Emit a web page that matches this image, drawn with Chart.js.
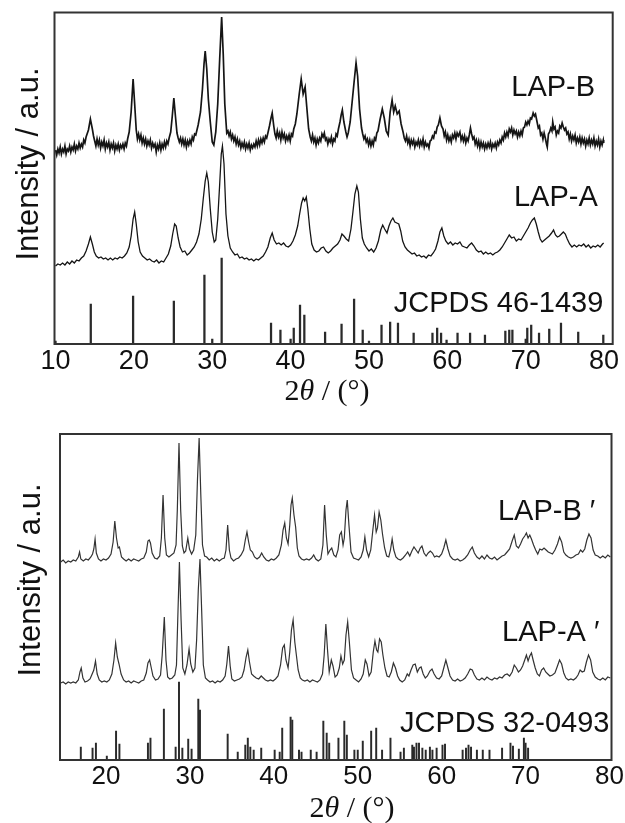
<!DOCTYPE html>
<html>
<head>
<meta charset="utf-8">
<script src="https://cdn.jsdelivr.net/npm/chart.js@4.4.1/dist/chart.umd.min.js"></script>
<style>
  body { margin: 0; background: #fff; }
  canvas { display: block; }
</style>
</head>
<body>
<canvas id="topChart" width="625" height="410"></canvas>
<canvas id="bottomChart" width="625" height="413"></canvas>
<script>
// 2theta tick labels for each panel
var topTicks = [10, 20, 30, 40, 50, 60, 70, 80];
var bottomTicks = [20, 30, 40, 50, 60, 70, 80];

// top panel, [2theta, intensity a.u.]
var lapB = [[10.0,194],[10.15,189],[10.3,195],[10.45,191],[10.6,197],[10.75,190],[10.9,195],[11.05,192],[11.2,198],[11.35,190],[11.5,195],[11.65,193],[11.8,198],[11.95,192],[12.1,197],[12.25,194],[12.4,200],[12.55,193],[12.7,198],[12.85,195],[13.0,201],[13.15,196],[13.3,200],[13.45,197],[13.6,204],[13.75,201],[13.9,207],[14.2,214],[14.45,225],[14.7,215],[14.85,208],[15.0,203],[15.15,198],[15.3,205],[15.45,199],[15.6,204],[15.75,196],[15.9,202],[16.05,198],[16.2,204],[16.35,195],[16.5,201],[16.65,197],[16.8,202],[16.95,194],[17.1,200],[17.25,196],[17.4,201],[17.55,193],[17.7,199],[17.85,195],[18.0,200],[18.15,194],[18.3,199],[18.45,196],[18.6,200],[18.75,195],[18.9,201],[19.05,198],[19.2,205],[19.4,212],[19.65,232],[19.9,265],[20.1,240],[20.3,214],[20.45,205],[20.6,210],[20.75,204],[20.9,209],[21.05,201],[21.2,206],[21.35,200],[21.5,205],[21.65,198],[21.8,203],[21.95,199],[22.1,204],[22.25,196],[22.4,201],[22.55,197],[22.7,200],[22.85,192],[23.0,199],[23.15,195],[23.3,201],[23.45,194],[23.6,200],[23.75,196],[23.9,202],[24.05,197],[24.2,203],[24.35,200],[24.5,206],[24.7,212],[24.9,228],[25.1,246],[25.3,228],[25.5,211],[25.65,206],[25.8,202],[25.95,206],[26.1,200],[26.25,205],[26.4,199],[26.55,204],[26.7,197],[26.85,203],[27.0,199],[27.15,204],[27.3,200],[27.45,207],[27.6,204],[27.75,210],[27.9,209],[28.2,219],[28.5,232],[28.75,255],[28.95,280],[29.1,293],[29.3,275],[29.5,245],[29.75,222],[30.0,202],[30.2,199],[30.45,212],[30.7,240],[30.95,285],[31.2,327],[31.4,290],[31.6,240],[31.85,211],[32.0,213],[32.15,208],[32.3,212],[32.45,205],[32.6,209],[32.75,203],[32.9,207],[33.05,200],[33.2,205],[33.35,199],[33.5,203],[33.65,196],[33.8,201],[33.95,197],[34.1,202],[34.25,195],[34.4,200],[34.55,196],[34.7,201],[34.85,194],[35.0,199],[35.15,196],[35.3,200],[35.45,197],[35.6,203],[35.75,198],[35.9,204],[36.05,199],[36.2,205],[36.35,201],[36.5,206],[36.65,202],[36.8,208],[36.95,206],[37.1,211],[37.3,218],[37.5,226],[37.65,231],[37.85,218],[38.0,210],[38.15,206],[38.3,213],[38.45,207],[38.6,211],[38.75,204],[38.9,212],[39.05,206],[39.2,210],[39.35,203],[39.5,208],[39.65,204],[39.8,209],[39.95,203],[40.1,210],[40.25,208],[40.4,215],[40.6,220],[40.8,230],[41.1,250],[41.35,265],[41.6,250],[41.85,257],[42.05,238],[42.3,215],[42.5,207],[42.65,203],[42.8,209],[42.95,202],[43.1,206],[43.25,199],[43.4,205],[43.55,201],[43.7,206],[43.85,203],[44.0,210],[44.15,207],[44.3,211],[44.45,204],[44.6,206],[44.75,200],[44.9,205],[45.05,202],[45.2,207],[45.35,200],[45.5,205],[45.65,203],[45.8,210],[45.95,208],[46.1,215],[46.3,222],[46.45,229],[46.6,234],[46.8,222],[47.05,212],[47.2,207],[47.35,211],[47.6,222],[47.85,242],[48.1,262],[48.35,281],[48.55,268],[48.8,235],[49.05,216],[49.2,210],[49.35,205],[49.5,208],[49.65,202],[49.8,205],[49.95,199],[50.1,204],[50.25,198],[50.4,203],[50.55,199],[50.7,206],[50.85,204],[51.0,211],[51.15,213],[51.4,224],[51.7,235],[51.95,226],[52.2,213],[52.45,209],[52.7,232],[52.95,244],[53.15,232],[53.35,238],[53.6,230],[53.85,233],[54.1,220],[54.35,212],[54.5,206],[54.65,203],[54.8,208],[54.95,201],[55.1,205],[55.25,198],[55.4,204],[55.55,200],[55.7,204],[55.85,197],[56.0,202],[56.15,199],[56.3,204],[56.45,198],[56.6,203],[56.75,199],[56.9,205],[57.05,197],[57.2,202],[57.35,198],[57.5,200],[57.65,196],[57.8,203],[57.95,204],[58.1,208],[58.25,206],[58.4,212],[58.55,211],[58.7,217],[58.85,219],[59.05,226],[59.25,218],[59.45,215],[59.6,208],[59.75,212],[59.9,204],[60.05,209],[60.2,203],[60.35,207],[60.5,202],[60.65,209],[60.8,206],[60.95,211],[61.1,205],[61.25,211],[61.4,208],[61.6,212],[61.75,204],[61.9,208],[62.05,203],[62.2,208],[62.35,201],[62.5,206],[62.65,203],[62.8,209],[62.95,216],[63.1,210],[63.25,205],[63.4,207],[63.55,200],[63.7,204],[63.85,198],[64.0,203],[64.15,196],[64.3,202],[64.45,197],[64.6,201],[64.75,195],[64.9,200],[65.05,196],[65.2,201],[65.35,197],[65.5,202],[65.65,195],[65.8,200],[65.95,197],[66.1,201],[66.25,196],[66.4,202],[66.55,199],[66.7,204],[66.85,201],[67.0,207],[67.15,204],[67.3,211],[67.45,207],[67.6,212],[67.75,208],[67.9,215],[68.05,212],[68.2,216],[68.35,209],[68.5,214],[68.65,210],[68.8,213],[68.95,207],[69.1,212],[69.25,208],[69.4,213],[69.55,209],[69.7,216],[69.85,217],[70.0,222],[70.15,219],[70.3,223],[70.45,220],[70.6,226],[70.75,225],[70.95,231],[71.1,228],[71.25,230],[71.45,222],[71.6,216],[71.75,218],[71.9,209],[72.05,211],[72.2,205],[72.35,211],[72.5,206],[72.65,200],[72.75,197],[72.9,210],[73.05,212],[73.2,216],[73.35,213],[73.45,222],[73.6,215],[73.75,217],[73.9,209],[74.05,213],[74.2,211],[74.35,218],[74.5,216],[74.65,221],[74.8,217],[74.95,214],[75.1,216],[75.25,210],[75.4,212],[75.55,205],[75.7,210],[75.85,203],[76.0,208],[76.15,204],[76.3,209],[76.45,201],[76.6,206],[76.75,202],[76.9,207],[77.05,200],[77.2,206],[77.35,201],[77.5,205],[77.65,198],[77.8,204],[77.95,200],[78.1,206],[78.25,199],[78.4,204],[78.55,200],[78.7,206],[78.85,198],[79.0,203],[79.15,199],[79.3,205],[79.45,197],[79.6,203],[79.75,199],[79.9,204],[79.95,201]];

var lapA = [[10.0,78],[10.3,80],[10.6,79],[10.9,81],[11.2,79],[11.5,82],[11.8,80],[12.1,83],[12.4,81],[12.7,84],[13.0,83],[13.3,86],[13.6,88],[13.9,93],[14.2,100],[14.45,107],[14.7,100],[14.95,92],[15.2,88],[15.5,86],[15.8,87],[16.1,85],[16.4,86],[16.7,84],[17.0,86],[17.3,84],[17.6,86],[17.9,85],[18.2,87],[18.5,86],[18.8,88],[19.1,91],[19.4,97],[19.65,108],[19.9,125],[20.1,132],[20.3,120],[20.55,102],[20.8,92],[21.1,88],[21.4,86],[21.7,84],[22.0,85],[22.3,83],[22.6,82],[22.9,84],[23.2,81],[23.5,83],[23.8,82],[24.1,86],[24.4,90],[24.7,98],[24.95,110],[25.2,120],[25.4,118],[25.65,106],[25.9,97],[26.2,92],[26.5,93],[26.8,89],[27.1,91],[27.4,94],[27.7,97],[28.0,102],[28.3,110],[28.6,125],[28.85,145],[29.1,163],[29.3,171],[29.5,162],[29.75,135],[30.0,112],[30.25,102],[30.45,104],[30.7,125],[30.95,160],[31.15,190],[31.3,198],[31.5,180],[31.75,130],[32.0,108],[32.3,96],[32.6,92],[32.9,89],[33.2,90],[33.5,86],[33.8,87],[34.1,85],[34.4,86],[34.7,84],[35.0,85],[35.3,83],[35.6,85],[35.9,84],[36.2,86],[36.5,88],[36.8,92],[37.1,97],[37.4,106],[37.65,111],[37.9,104],[38.2,100],[38.5,101],[38.8,99],[39.1,101],[39.4,98],[39.7,97],[40.0,99],[40.3,103],[40.6,109],[40.9,118],[41.15,130],[41.4,141],[41.6,146],[41.8,143],[42.0,147],[42.2,135],[42.45,115],[42.7,100],[43.0,94],[43.3,92],[43.6,93],[43.9,96],[44.2,97],[44.5,93],[44.8,91],[45.1,93],[45.4,96],[45.7,98],[46.0,100],[46.3,104],[46.55,110],[46.8,108],[47.1,105],[47.4,103],[47.7,115],[47.95,132],[48.2,150],[48.45,158],[48.65,152],[48.9,125],[49.15,106],[49.4,100],[49.7,96],[50.0,93],[50.3,95],[50.6,92],[50.9,96],[51.2,103],[51.5,114],[51.75,119],[52.0,115],[52.3,111],[52.55,118],[52.8,123],[53.05,126],[53.3,122],[53.55,121],[53.8,120],[54.05,113],[54.3,103],[54.6,97],[54.9,94],[55.2,92],[55.5,90],[55.8,91],[56.1,88],[56.4,89],[56.7,87],[57.0,88],[57.3,86],[57.6,89],[57.9,88],[58.2,91],[58.5,95],[58.8,103],[59.05,112],[59.3,116],[59.55,108],[59.8,103],[60.1,100],[60.4,102],[60.7,99],[61.0,101],[61.3,100],[61.6,102],[61.9,98],[62.2,97],[62.5,96],[62.8,99],[63.1,101],[63.4,98],[63.7,94],[64.0,92],[64.3,93],[64.6,90],[64.9,92],[65.2,90],[65.5,91],[65.8,89],[66.1,91],[66.4,92],[66.7,94],[67.0,97],[67.3,101],[67.6,105],[67.9,109],[68.2,106],[68.5,107],[68.8,103],[69.1,105],[69.4,104],[69.7,108],[70.0,112],[70.3,116],[70.6,121],[70.85,124],[71.1,126],[71.35,120],[71.6,112],[71.85,105],[72.1,102],[72.4,104],[72.7,106],[73.0,108],[73.3,111],[73.55,114],[73.8,109],[74.05,107],[74.3,108],[74.55,110],[74.8,112],[75.05,110],[75.3,105],[75.6,100],[75.9,97],[76.2,99],[76.5,97],[76.8,99],[77.1,98],[77.4,100],[77.7,97],[78.0,99],[78.3,96],[78.6,98],[78.9,97],[79.2,99],[79.5,97],[79.8,100],[79.95,101]];

// JCPDS 46-1439 reference lines
var jcpds46x = [10.0,14.5,19.9,25.1,29.0,30.0,31.2,37.5,38.7,40.0,40.4,41.2,41.75,44.4,46.5,48.1,49.2,50.0,51.6,52.7,53.7,55.7,58.1,58.7,59.2,59.9,61.3,62.9,64.8,67.4,67.9,68.3,70.0,70.2,70.7,71.7,73.0,74.5,76.7,79.9];
var jcpds46h = [3,40,48,43,69,5,86,21,14,5,16,39,29,12,20,45,14,3,19,22,21,11,11,16,11,4,11,11,9,13,14,14,5,16,19,11,15,21,12,9];

// bottom panel
var lapBp = [[14.6,198],[14.9,200],[15.2,197],[15.5,199],[15.8,198],[16.1,200],[16.4,199],[16.7,203],[16.85,208],[17.0,201],[17.3,199],[17.6,201],[17.9,200],[18.2,203],[18.4,206],[18.55,211],[18.7,221],[18.85,207],[19.1,201],[19.4,199],[19.7,201],[20.0,200],[20.3,202],[20.6,206],[20.85,218],[21.05,239],[21.25,222],[21.45,212],[21.6,213],[21.85,203],[22.1,201],[22.4,199],[22.7,201],[23.0,199],[23.3,201],[23.6,200],[23.9,199],[24.2,201],[24.5,202],[24.8,208],[25.0,219],[25.15,220],[25.3,217],[25.5,207],[25.8,202],[26.1,201],[26.4,204],[26.6,222],[26.8,265],[27.0,222],[27.2,205],[27.5,203],[27.8,205],[28.1,207],[28.35,215],[28.5,250],[28.7,317],[28.9,250],[29.1,214],[29.3,207],[29.5,209],[29.75,222],[29.95,211],[30.2,206],[30.45,210],[30.7,225],[30.9,280],[31.1,322],[31.3,265],[31.5,215],[31.75,204],[32.0,203],[32.3,200],[32.6,202],[32.9,199],[33.2,201],[33.5,199],[33.8,201],[34.1,202],[34.3,210],[34.5,235],[34.7,210],[34.9,202],[35.2,199],[35.5,201],[35.8,202],[36.1,205],[36.4,210],[36.6,220],[36.8,228],[37.0,218],[37.2,210],[37.45,208],[37.7,203],[38.0,201],[38.3,203],[38.55,207],[38.8,203],[39.1,200],[39.4,199],[39.7,201],[40.0,200],[40.3,202],[40.6,205],[40.9,215],[41.1,230],[41.3,237],[41.5,222],[41.7,216],[41.9,235],[42.05,255],[42.2,262],[42.4,245],[42.6,233],[42.8,212],[43.0,204],[43.3,201],[43.6,200],[43.9,201],[44.2,200],[44.5,202],[44.75,205],[45.0,201],[45.3,199],[45.6,201],[45.85,215],[46.05,255],[46.25,225],[46.45,206],[46.7,210],[46.9,212],[47.15,205],[47.4,203],[47.65,210],[47.85,225],[48.05,228],[48.25,215],[48.4,222],[48.6,250],[48.75,260],[48.95,235],[49.2,208],[49.5,202],[49.8,201],[50.1,200],[50.4,203],[50.65,210],[50.85,223],[51.05,210],[51.3,203],[51.55,210],[51.8,230],[52.0,245],[52.2,228],[52.35,232],[52.55,248],[52.75,240],[52.95,226],[53.2,212],[53.45,204],[53.7,203],[53.9,210],[54.1,221],[54.3,210],[54.55,203],[54.8,201],[55.1,200],[55.4,202],[55.7,205],[55.95,208],[56.2,204],[56.45,209],[56.7,213],[56.95,210],[57.2,207],[57.45,212],[57.65,214],[57.9,207],[58.15,204],[58.4,207],[58.65,209],[58.9,207],[59.15,203],[59.4,204],[59.7,203],[60.0,206],[60.25,212],[60.5,220],[60.75,211],[61.0,204],[61.3,201],[61.6,200],[61.9,201],[62.2,199],[62.5,200],[62.8,202],[63.1,205],[63.4,210],[63.65,213],[63.9,207],[64.2,203],[64.5,201],[64.8,204],[65.1,201],[65.4,205],[65.7,202],[66.0,201],[66.3,203],[66.6,200],[66.9,202],[67.2,204],[67.5,205],[67.8,208],[68.1,211],[68.4,219],[68.65,225],[68.9,214],[69.15,212],[69.4,216],[69.65,221],[69.9,224],[70.1,227],[70.3,222],[70.5,225],[70.7,221],[70.95,215],[71.2,210],[71.45,206],[71.7,211],[71.95,210],[72.2,212],[72.45,210],[72.7,208],[72.95,207],[73.2,206],[73.5,210],[73.8,216],[74.05,223],[74.3,218],[74.55,208],[74.8,205],[75.1,203],[75.4,202],[75.7,203],[76.0,205],[76.3,206],[76.55,210],[76.8,208],[77.05,211],[77.3,220],[77.55,226],[77.8,222],[78.05,210],[78.3,205],[78.6,204],[78.9,202],[79.2,204],[79.5,202],[79.8,205],[80.1,203]];

var lapAp = [[14.6,77],[14.9,78],[15.2,76],[15.5,78],[15.8,77],[16.1,78],[16.4,77],[16.7,80],[16.9,88],[17.05,92],[17.25,82],[17.5,78],[17.8,79],[18.1,81],[18.3,85],[18.55,90],[18.75,99],[18.95,86],[19.2,80],[19.5,78],[19.8,79],[20.1,78],[20.4,80],[20.7,86],[20.95,100],[21.15,117],[21.35,103],[21.55,96],[21.8,86],[22.1,80],[22.4,78],[22.7,79],[23.0,77],[23.3,79],[23.6,78],[23.9,77],[24.2,79],[24.5,80],[24.8,87],[25.0,97],[25.2,100],[25.4,92],[25.6,84],[25.9,80],[26.2,81],[26.5,85],[26.7,105],[26.95,143],[27.15,100],[27.35,83],[27.6,81],[27.9,82],[28.2,85],[28.4,95],[28.55,140],[28.75,198],[28.95,140],[29.15,92],[29.4,86],[29.65,95],[29.9,111],[30.1,96],[30.35,88],[30.6,92],[30.8,120],[31.0,170],[31.2,201],[31.4,150],[31.6,95],[31.85,82],[32.1,80],[32.4,78],[32.7,79],[33.0,77],[33.3,79],[33.6,78],[33.9,80],[34.2,84],[34.4,96],[34.6,114],[34.8,94],[35.0,81],[35.3,79],[35.6,80],[35.9,81],[36.2,83],[36.45,90],[36.7,103],[36.9,110],[37.1,98],[37.35,86],[37.6,84],[37.9,82],[38.2,81],[38.5,84],[38.75,82],[39.0,80],[39.3,79],[39.6,80],[39.9,79],[40.2,81],[40.5,84],[40.8,95],[41.05,112],[41.25,115],[41.45,100],[41.7,92],[41.9,108],[42.1,130],[42.3,140],[42.5,118],[42.7,104],[42.9,90],[43.15,82],[43.4,80],[43.7,79],[44.0,80],[44.3,78],[44.6,80],[44.9,79],[45.2,78],[45.5,80],[45.8,86],[46.0,105],[46.2,136],[46.4,110],[46.6,88],[46.85,100],[47.05,94],[47.3,83],[47.55,85],[47.8,92],[48.0,104],[48.2,96],[48.4,100],[48.6,125],[48.8,138],[49.0,118],[49.25,90],[49.5,82],[49.8,80],[50.1,78],[50.4,81],[50.65,86],[50.9,100],[51.1,96],[51.35,84],[51.6,88],[51.85,108],[52.05,119],[52.25,110],[52.4,108],[52.6,121],[52.8,118],[53.0,105],[53.25,92],[53.5,84],[53.75,83],[54.0,88],[54.25,97],[54.5,92],[54.75,84],[55.0,80],[55.3,78],[55.6,80],[55.9,86],[56.1,84],[56.35,90],[56.6,95],[56.85,96],[57.1,88],[57.35,92],[57.55,93],[57.8,86],[58.05,82],[58.3,84],[58.6,89],[58.85,91],[59.1,86],[59.4,82],[59.7,81],[60.0,84],[60.25,92],[60.5,100],[60.75,92],[61.0,84],[61.3,80],[61.6,79],[61.9,81],[62.2,79],[62.5,80],[62.8,82],[63.1,86],[63.4,91],[63.65,90],[63.9,85],[64.2,81],[64.5,80],[64.8,82],[65.1,80],[65.4,83],[65.7,81],[66.0,80],[66.3,82],[66.6,81],[66.9,83],[67.2,82],[67.5,85],[67.8,86],[68.1,84],[68.4,88],[68.65,95],[68.9,92],[69.15,88],[69.4,90],[69.65,94],[69.9,100],[70.1,105],[70.3,99],[70.5,104],[70.7,107],[70.9,100],[71.15,92],[71.4,86],[71.65,84],[71.9,90],[72.15,92],[72.4,88],[72.65,86],[72.9,84],[73.2,85],[73.5,87],[73.8,94],[74.05,100],[74.3,96],[74.55,87],[74.8,82],[75.1,80],[75.4,81],[75.7,80],[76.0,82],[76.25,85],[76.5,90],[76.75,88],[77.0,89],[77.25,98],[77.5,105],[77.75,100],[78.0,88],[78.3,83],[78.6,81],[78.9,80],[79.2,82],[79.5,80],[79.8,83],[80.1,82]];

// JCPDS 32-0493 reference lines
var jcpds32x = [17.0,18.4,18.8,20.1,21.2,21.6,25.0,25.3,26.9,28.3,28.7,29.1,29.8,30.2,31.0,31.2,34.5,35.7,36.6,36.9,37.2,37.6,38.5,40.1,40.7,41.0,42.0,42.2,43.0,43.3,44.4,45.1,45.9,46.3,46.6,47.7,48.4,48.7,49.6,50.0,50.6,51.6,52.2,52.9,53.9,55.1,55.5,56.5,56.7,57.0,57.3,57.7,58.1,58.6,58.9,59.4,60.1,60.4,62.5,62.9,63.2,63.5,64.2,64.9,65.7,67.2,68.2,68.5,69.2,69.8,70.0,70.3];
var jcpds32h = [13,12,17,4,29,16,17,22,51,13,78,12,21,11,61,50,26,8,15,22,13,10,12,10,8,32,43,40,10,8,10,8,39,27,17,22,39,25,10,10,19,29,32,10,22,8,12,15,13,17,17,12,10,13,10,12,15,16,10,12,15,13,10,10,10,12,17,14,11,22,17,12];

// trace names
var topNames = ["LAP-B", "LAP-A", "JCPDS 46-1439"];
var bottomNames = ["LAP-B \u2032", "LAP-A \u2032", "JCPDS 32-0493"];

var sans = "'Liberation Sans', Arial, sans-serif";
var serif = "'Liberation Serif', 'Times New Roman', serif";

function pts(arr) {
  return arr.map(function (p) { return { x: p[0], y: p[1] }; });
}
function sticks(xs, hs) {
  return xs.map(function (x, i) { return { x: x, y: hs[i] }; });
}

// frame, trace names and axis titles
var panelText = {
  id: "panelText",
  afterDraw: function (chart, args, o) {
    var ctx = chart.ctx, a = chart.chartArea;
    var xs = chart.scales.x, ys = chart.scales.y;
    ctx.save();
    ctx.strokeStyle = "#333";
    ctx.lineWidth = 2;
    ctx.strokeRect(a.left, a.top, a.right - a.left, a.bottom - a.top);

    ctx.fillStyle = "#111";
    ctx.font = "29px " + sans;
    ctx.textAlign = "right";
    ctx.textBaseline = "middle";
    o.labels.forEach(function (l) {
      ctx.fillText(l.text, xs.getPixelForValue(l.x), ys.getPixelForValue(l.y));
    });

    // y title
    ctx.save();
    ctx.translate(o.yTitle.x, o.yTitle.y);
    ctx.rotate(-Math.PI / 2);
    ctx.textAlign = "center";
    ctx.font = "31px " + sans;
    ctx.fillText("Intensity / a.u.", 0, 0);
    ctx.restore();

    // x title: 2θ / (°) with italic theta
    var f1 = "30px " + serif, f2 = "italic 30px " + serif;
    ctx.textAlign = "left";
    ctx.font = f1; var w1 = ctx.measureText("2").width;
    ctx.font = f2; var w2 = ctx.measureText("\u03b8").width;
    ctx.font = f1; var w3 = ctx.measureText(" / (\u00b0)").width;
    var x0 = o.xTitle.x - (w1 + w2 + w3) / 2;
    ctx.fillText("2", x0, o.xTitle.y);
    ctx.font = f2; ctx.fillText("\u03b8", x0 + w1, o.xTitle.y);
    ctx.font = f1; ctx.fillText(" / (\u00b0)", x0 + w1 + w2, o.xTitle.y);
    ctx.restore();
  }
};

function makeChart(id, d) {
  return new Chart(document.getElementById(id).getContext("2d"), {
    type: "line",
    data: {
      datasets: [
        { data: pts(d.b), borderColor: d.lineColor, borderWidth: d.lineB, pointRadius: 0, tension: 0 },
        { data: pts(d.a), borderColor: d.lineColor, borderWidth: d.lineA, pointRadius: 0, tension: 0 },
        { type: "bar", data: sticks(d.sx, d.sh), backgroundColor: "#2a2a2a", barThickness: d.stickW, grouped: false, borderWidth: 0 }
      ]
    },
    options: {
      responsive: false,
      animation: false,
      events: [],
      layout: { padding: d.pad },
      plugins: {
        legend: { display: false },
        tooltip: { enabled: false },
        panelText: { labels: d.labels, yTitle: d.yTitle, xTitle: d.xTitle }
      },
      scales: {
        x: {
          type: "linear",
          min: d.xmin,
          max: d.xmax,
          offset: false,
          grid: { display: false, drawTicks: false },
          border: { display: false },
          ticks: { color: "#111", padding: 1, font: { family: sans, size: d.tickSize } },
          afterBuildTicks: function (s) { s.ticks = d.ticks.map(function (v) { return { value: v }; }); },
          afterFit: function (s) { s.height = d.xh; }
        },
        y: {
          min: 0,
          max: d.ymax,
          grid: { display: false, drawTicks: false },
          border: { display: false },
          ticks: { display: false },
          afterFit: function (s) { s.width = d.yw; }
        }
      }
    },
    plugins: [panelText]
  });
}

makeChart("topChart", {
  b: lapB, a: lapA, sx: jcpds46x, sh: jcpds46h,
  lineColor: "#151515", lineB: 1.7, lineA: 1.3, stickW: 1.6,
  xmin: 9.87, xmax: 81.1, ymax: 331.5, ticks: topTicks, tickSize: 27,
  xh: 66, yw: 54.5, pad: { top: 12.5, right: 12.3, left: 0, bottom: 0 },
  labels: [
    { text: topNames[0], x: 78.85, y: 256.5 },
    { text: topNames[1], x: 79.2, y: 146 },
    { text: topNames[2], x: 79.9, y: 40 }
  ],
  yTitle: { x: 29, y: 164 },
  xTitle: { x: 327, y: 392 }
});

makeChart("bottomChart", {
  b: lapBp, a: lapAp, sx: jcpds32x, sh: jcpds32h,
  lineColor: "#333", lineB: 1.2, lineA: 1.2, stickW: 1.3,
  xmin: 14.52, xmax: 80.24, ymax: 326, ticks: bottomTicks, tickSize: 26,
  xh: 63, yw: 60, pad: { top: 24, right: 13, left: 0, bottom: 0 },
  labels: [
    { text: bottomNames[0], x: 78.3, y: 248 },
    { text: bottomNames[1], x: 78.8, y: 127 },
    { text: bottomNames[2], x: 80.0, y: 36 }
  ],
  yTitle: { x: 31, y: 170 },
  xTitle: { x: 352, y: 399.5 }
});
</script>
</body>
</html>
